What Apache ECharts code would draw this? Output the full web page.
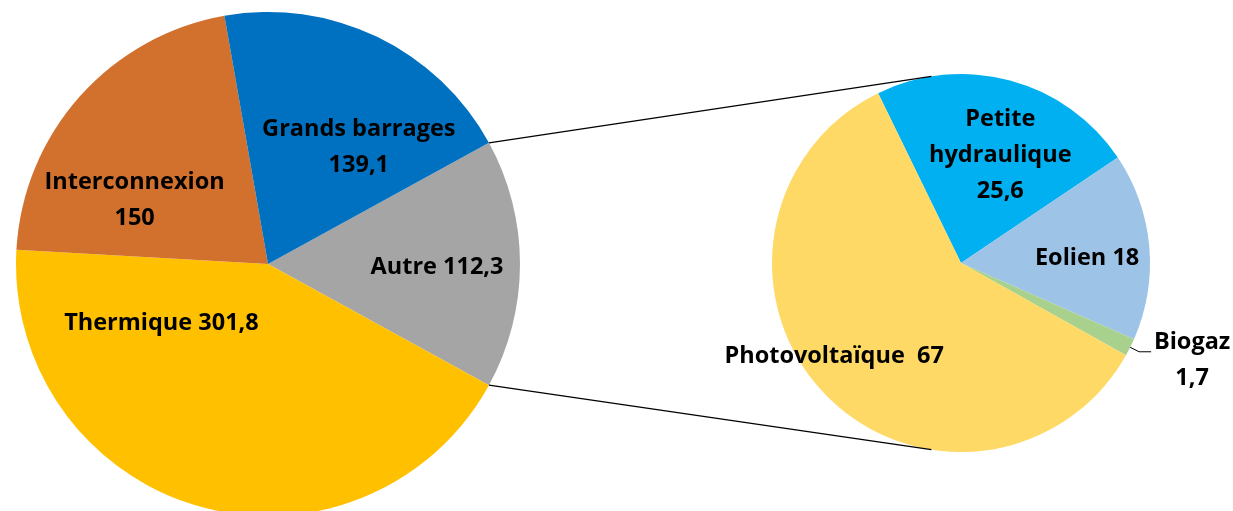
<!DOCTYPE html>
<html>
<head>
<meta charset="utf-8">
<script src="https://cdn.jsdelivr.net/npm/echarts@6/dist/echarts.min.js"></script>
<style>
  html, body { margin: 0; padding: 0; background: #ffffff; }
  #chart { width: 1233px; height: 511px; }
</style>
</head>
<body>
<div id="chart"></div>
<script>
// Production par source (main pie) and breakdown of "Autre" (secondary pie)
const mainNames  = ['Autre', 'Thermique', 'Interconnexion', 'Grands barrages'];
const mainValues = [112.3, 301.8, 150, 139.1];
const mainSep    = [' ', ' ', '\n', '\n'];
const mainColors = ['#A5A5A5', '#FFC000', '#D2702D', '#0070C0'];

const subNames  = ['Petite\nhydraulique', 'Eolien', 'Biogaz', 'Photovoltaïque'];
const subValues = [25.6, 18, 1.7, 67];
const subSep    = ['\n', ' ', '\n', '  '];
const subColors = ['#00B0F0', '#9DC3E6', '#A9D18E', '#FFD966'];

// geometry
const MAIN = { cx: 268, cy: 264, r: 252 };
const SUB  = { cx: 961, cy: 263, r: 189, startAngle: 116, connectorAngle: 99 };

// label nudges from the default inside position
const mainLabelShift = [[40, 3], [-71, -65], [-37, 22], [35, 0]];
const subLabelShift  = [[14, -14], [29, 4], [36, 9], [-56, 26]];

const fmt = v => String(v).replace('.', ',');

const mainTotal = mainValues.reduce((a, b) => a + b, 0);
// "Autre" slice is centred on the horizontal axis, pointing at the second pie
const autreSpan = mainValues[0] / mainTotal * 360;
const mainStart = autreSpan / 2;

function pt(c, r, deg) {
  const a = deg * Math.PI / 180;
  return [c.cx + r * Math.cos(a), c.cy - r * Math.sin(a)];
}

const labelFont = {
  fontFamily: '"Open Sans", Lato, sans-serif',
  fontWeight: 'bold',
  fontSize: 23.5,
  lineHeight: 36,
  color: '#000000',
  align: 'center'
};

const chart = echarts.init(document.getElementById('chart'), null, { renderer: 'canvas' });

const p1 = pt(MAIN, MAIN.r, mainStart);
const p2 = pt(MAIN, MAIN.r, -mainStart);
const q1 = pt(SUB, SUB.r, SUB.connectorAngle);
const q2 = pt(SUB, SUB.r, -SUB.connectorAngle);

chart.setOption({
  animation: false,
  backgroundColor: '#ffffff',
  series: [
    {
      type: 'pie',
      center: [MAIN.cx, MAIN.cy],
      radius: [0, MAIN.r],
      startAngle: mainStart,
      clockwise: true,
      avoidLabelOverlap: false,
      emphasis: { disabled: true },
      itemStyle: { borderWidth: 0 },
      label: Object.assign({ position: 'inside' }, labelFont),
      labelLine: { show: false },
      labelLayout: p => ({ dx: mainLabelShift[p.dataIndex][0], dy: mainLabelShift[p.dataIndex][1] }),
      data: mainNames.map((n, i) => ({
        name: n,
        value: mainValues[i],
        itemStyle: { color: mainColors[i] },
        label: { formatter: n + mainSep[i] + fmt(mainValues[i]) }
      }))
    },
    {
      type: 'pie',
      center: [SUB.cx, SUB.cy],
      radius: [0, SUB.r],
      startAngle: SUB.startAngle,
      clockwise: true,
      avoidLabelOverlap: false,
      emphasis: { disabled: true },
      itemStyle: { borderWidth: 0 },
      label: Object.assign({ position: 'inside' }, labelFont),
      labelLine: { show: false },
      labelLayout: p => {
        const s = { dx: subLabelShift[p.dataIndex][0], dy: subLabelShift[p.dataIndex][1] };
        if (subNames[p.dataIndex] === 'Biogaz') s.align = 'center';
        return s;
      },
      data: subNames.map((n, i) => {
        const d = {
          name: n,
          value: subValues[i],
          itemStyle: { color: subColors[i] },
          label: { formatter: n + subSep[i] + fmt(subValues[i]) }
        };
        if (n === 'Biogaz') {
          d.label.position = 'outside';
          d.labelLine = { show: true, length: 10, length2: 12, lineStyle: { color: '#000000', width: 1 } };
        }
        return d;
      })
    }
  ],
  graphic: [
    { type: 'line', shape: { x1: p1[0], y1: p1[1], x2: q1[0], y2: q1[1] }, style: { stroke: '#000000', lineWidth: 1.2 }, z: 10 },
    { type: 'line', shape: { x1: p2[0], y1: p2[1], x2: q2[0], y2: q2[1] }, style: { stroke: '#000000', lineWidth: 1.2 }, z: 10 }
  ]
});
</script>
</body>
</html>
